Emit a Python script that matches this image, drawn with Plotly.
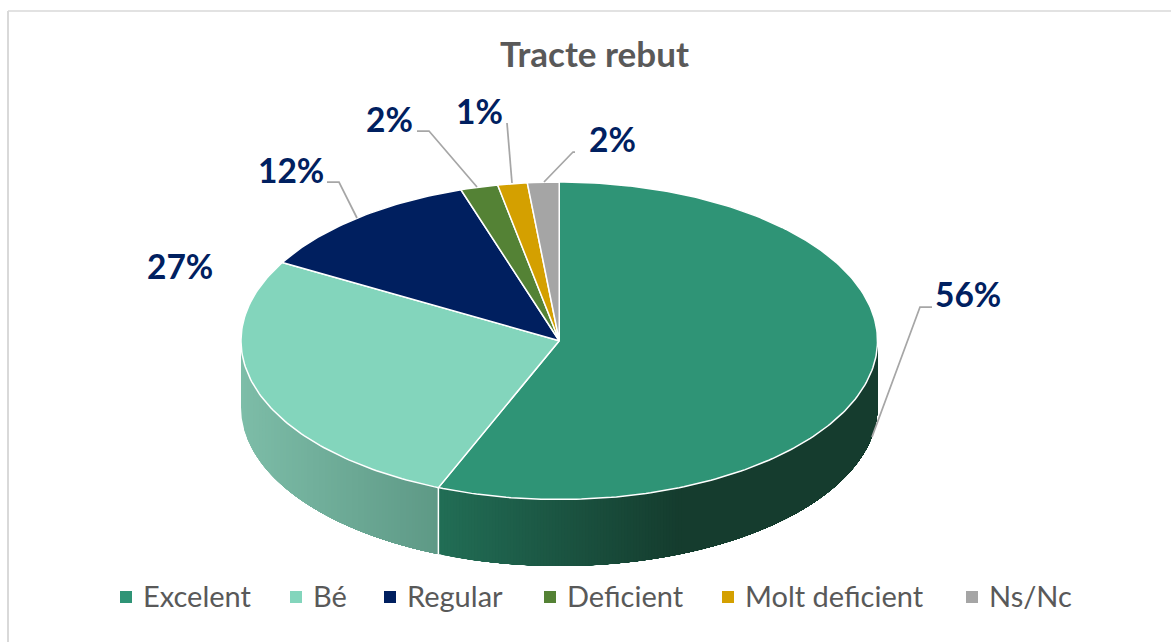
import numpy as np
import plotly.graph_objects as go

# --- data -------------------------------------------------------------
CATEGORIES = ["Excelent", "Bé", "Regular", "Deficient", "Molt deficient", "Ns/Nc"]
VALUES = [56.2, 27.0, 11.8, 1.9, 1.5, 1.6]
LABELS = ["56%", "27%", "12%", "2%", "1%", "2%"]
COLORS = ["#2F9476", "#83D5BC", "#001F5F", "#548235", "#D4A000", "#A5A5A5"]
TITLE = "Tracte rebut"

# --- style / layout (pixel space of the page) ---------------------------
W, H = 1171, 642
CX, CY, RX, RY, DEPTH = 559.25, 340.75, 318.25, 158.75, 66.5
LABEL_POS = [(968, 294), (180, 266), (291, 170), (389, 119), (479, 111), (612, 139)]
LEGEND_X = [126, 296, 390, 550, 728, 972]
LEGEND_Y = 597
LEGEND_TEXT_Y = 595
LEGEND_TEXT_DX = 15
LEADERS = [
    [(932, 307), (920, 307), (872, 437)],
    [(327, 182), (339, 182), (357, 218)],
    [(417, 131), (429, 131), (477, 187)],
    [(507, 123), (512, 183)],
    [(575, 152), (573, 152), (544, 182)],
]
FONT = "Lato, Carlito, Calibri, sans-serif"
SIDE_GRADIENTS = {0: ((438, "#226E56"), (680, "#153C2E")), 1: ((241, "#7DBDA8"), (438, "#5E9986"))}


def hex2rgb(c):
    return np.array([int(c[i:i + 2], 16) for i in (1, 3, 5)], float)


def ellipse(theta):
    """theta in radians, clockwise from 12 o'clock."""
    return CX + RX * np.sin(theta), CY - RY * np.cos(theta)


fig = go.Figure()

# cumulative angles from the values
fractions = np.array(VALUES) / sum(VALUES)
edges = np.concatenate([[0], np.cumsum(fractions)]) * 2 * np.pi

# side walls: nested overlapping polygons shaded along x (no seams)
for i in range(len(VALUES)):
    a0, a1 = max(edges[i], np.pi / 2), min(edges[i + 1], 3 * np.pi / 2)
    if a1 <= a0 or i not in SIDE_GRADIENTS:
        continue
    (g0, c0), (g1, c1) = SIDE_GRADIENTS[i]
    c0, c1 = hex2rgb(c0), hex2rgb(c1)
    x_lo, x_hi = ellipse(a1)[0], ellipse(a0)[0]
    x_cuts = np.arange(x_lo, min(x_hi, max(g0, g1)) + 3, 3.0)
    for xc in x_cuts:
        t = np.pi - np.arcsin(np.clip((xc - CX) / RX, -1, 1))
        th = np.linspace(a0, min(t, a1), 160)
        x, y = ellipse(th)
        px = np.concatenate([x, x[::-1], x[:1]])
        py = np.concatenate([y, y[::-1] + DEPTH, y[:1]])
        f = np.clip((xc - g0) / (g1 - g0), 0, 1)
        col = "rgb(%d,%d,%d)" % tuple(c0 + (c1 - c0) * f)
        fig.add_trace(go.Scatter(x=px, y=py, mode="lines", fill="toself", fillcolor=col,
                                 line=dict(width=0), hoverinfo="skip", showlegend=False))

# white separator on the wall between the two visible slices
sx, sy = ellipse(edges[1])
fig.add_trace(go.Scatter(x=[sx, sx], y=[sy, sy + DEPTH], mode="lines",
                         line=dict(color="white", width=1.5), hoverinfo="skip", showlegend=False))

# top surface
for i, (name, col) in enumerate(zip(CATEGORIES, COLORS)):
    th = np.linspace(edges[i], edges[i + 1], max(4, int(400 * fractions[i])))
    x, y = ellipse(th)
    fig.add_trace(go.Scatter(x=np.concatenate([[CX], x, [CX]]), y=np.concatenate([[CY], y, [CY]]),
                             mode="lines", fill="toself", fillcolor=col,
                             line=dict(color="white", width=1.5),
                             hovertemplate=f"{name}: {LABELS[i]}<extra></extra>", showlegend=False))

# leader lines
for pts in LEADERS:
    fig.add_trace(go.Scatter(x=[p[0] for p in pts], y=[p[1] for p in pts], mode="lines",
                             line=dict(color="#A6A6A6", width=1.75), hoverinfo="skip", showlegend=False))

# legend (swatch + real text, spaced as in the reference)
for name, col, lx in zip(CATEGORIES, COLORS, LEGEND_X):
    fig.add_trace(go.Scatter(x=[lx], y=[LEGEND_Y], mode="markers", name=name, hoverinfo="name",
                             marker=dict(symbol="square", size=12, color=col), showlegend=False))
    fig.add_annotation(x=lx + LEGEND_TEXT_DX, y=LEGEND_TEXT_Y, text=name, showarrow=False,
                       xanchor="left", yanchor="middle",
                       font=dict(family=FONT, size=29, color="#595959"))

# data labels
for lab, (lx, ly) in zip(LABELS, LABEL_POS):
    fig.add_annotation(x=lx, y=ly, text=f"<b>{lab}</b>", showarrow=False,
                       xanchor="center", yanchor="middle",
                       font=dict(family=FONT, size=33.5, color="#002060"))

# chart frame
fig.add_shape(type="line", x0=8, x1=8, y0=11, y1=H, line=dict(color="#D9D9D9", width=2))
fig.add_shape(type="line", x0=8, x1=W, y0=11, y1=11, line=dict(color="#D9D9D9", width=1.5))

fig.update_layout(
    width=W, height=H, margin=dict(l=0, r=0, t=0, b=0, autoexpand=False),
    paper_bgcolor="white", plot_bgcolor="white", showlegend=False,
    title=dict(text=f"<b>{TITLE}</b>", x=594.5 / W, xanchor="center", y=1 - 55 / H, yanchor="middle",
               font=dict(family=FONT, size=35, color="#595959")),
    xaxis=dict(range=[0, W], visible=False, fixedrange=True),
    yaxis=dict(range=[H, 0], visible=False, fixedrange=True),
)
fig.write_html("out.html", config=dict(displayModeBar=False),
               post_script="document.body.style.margin='0';document.body.style.overflow='hidden';")
